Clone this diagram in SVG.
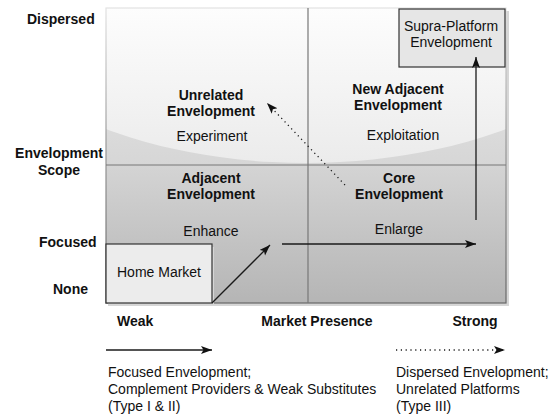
<svg xmlns="http://www.w3.org/2000/svg" width="553" height="414" viewBox="0 0 553 414">
  <style>
    text { font-family: "Liberation Sans", Arial, sans-serif; font-size: 14px; fill: #111; }
    .b { font-weight: bold; }
    .c { text-anchor: middle; }
    .grid { stroke: #777; stroke-width: 1.2; fill: none; }
    .conn { stroke: #1a1a1a; stroke-width: 1.3; fill: none; }
    .dot { stroke: #1a1a1a; stroke-width: 1.3; fill: none; stroke-dasharray: 1.2 3.6; }
    .box { stroke: #333; stroke-width: 1.2; }
    .shadow { fill: #d6d6d6; }
  </style>
  <defs>
    <marker id="head" markerUnits="userSpaceOnUse" markerWidth="12" markerHeight="9" refX="11" refY="4" orient="auto">
      <path d="M0,0 L11,4 L0,8 L2.5,4 z" fill="#111"/>
    </marker>
    <linearGradient id="upperBase" x1="0" y1="0" x2="0" y2="1">
      <stop offset="0" stop-color="#ececec"/>
      <stop offset="1" stop-color="#d6d6d6"/>
    </linearGradient>
    <linearGradient id="gloss" gradientUnits="userSpaceOnUse" x1="0" y1="8" x2="0" y2="165">
      <stop offset="0" stop-color="#fdfdfd"/>
      <stop offset="1" stop-color="#ebebeb"/>
    </linearGradient>
    <linearGradient id="lower" x1="0" y1="0" x2="0" y2="1">
      <stop offset="0" stop-color="#d4d4d4"/>
      <stop offset="1" stop-color="#b5b5b5"/>
    </linearGradient>
    <linearGradient id="frame" gradientUnits="userSpaceOnUse" x1="0" y1="8" x2="0" y2="303">
      <stop offset="0" stop-color="#e2e2e2"/>
      <stop offset="0.45" stop-color="#9a9a9a"/>
      <stop offset="1" stop-color="#666"/>
    </linearGradient>
    <clipPath id="upperClip">
      <rect x="106" y="8" width="400" height="157"/>
    </clipPath>
  </defs>

  <!-- chart panel -->
  <g id="panel">
    <rect class="shadow" x="109" y="11" width="400" height="295"/>
    <g clip-path="url(#upperClip)">
      <rect x="106" y="8" width="400" height="157" fill="url(#upperBase)"/>
      <ellipse cx="306" cy="-20" rx="344" ry="183" fill="url(#gloss)"/>
    </g>
    <rect x="106" y="165" width="400" height="138" fill="url(#lower)"/>
    <rect x="106" y="8" width="400" height="295" fill="none" stroke="url(#frame)" stroke-width="1.2"/>
    <line class="grid" x1="308" y1="8" x2="308" y2="303"/>
    <line class="grid" x1="106" y1="165" x2="506" y2="165"/>
  </g>

  <!-- vertical axis -->
  <g id="axis-scope">
    <text class="b" x="27" y="24">Dispersed</text>
    <text class="b c" x="59" y="158">Envelopment</text>
    <text class="b c" x="59" y="175">Scope</text>
    <text class="b" x="39" y="247">Focused</text>
    <text class="b" x="53" y="294">None</text>
  </g>

  <!-- horizontal axis -->
  <g id="axis-presence">
    <text class="b" x="117" y="326">Weak</text>
    <text class="b c" x="317" y="326">Market Presence</text>
    <text class="b c" x="475" y="326">Strong</text>
  </g>

  <!-- quadrants -->
  <g id="unrelated">
    <text class="b c" x="211" y="100">Unrelated</text>
    <text class="b c" x="211" y="116">Envelopment</text>
    <text class="c" x="212" y="141">Experiment</text>
  </g>
  <g id="new-adjacent">
    <text class="b c" x="398" y="94">New Adjacent</text>
    <text class="b c" x="398" y="110">Envelopment</text>
    <text class="c" x="403" y="140">Exploitation</text>
  </g>
  <g id="adjacent">
    <text class="b c" x="211" y="183">Adjacent</text>
    <text class="b c" x="211" y="199">Envelopment</text>
    <text class="c" x="211" y="236">Enhance</text>
  </g>
  <g id="core">
    <text class="b c" x="399" y="183">Core</text>
    <text class="b c" x="399" y="199">Envelopment</text>
    <text class="c" x="399" y="234">Enlarge</text>
  </g>

  <!-- boxed nodes -->
  <g id="home-market">
    <rect class="shadow" x="108" y="247" width="106" height="59"/>
    <rect class="box" x="106" y="244" width="106" height="59" fill="#ececec"/>
    <text class="c" x="159" y="277">Home Market</text>
  </g>
  <g id="supra-platform">
    <rect class="box" x="399" y="9" width="106" height="58" fill="#e6e6e6"/>
    <text class="c" x="451" y="31">Supra-Platform</text>
    <text class="c" x="451" y="47">Envelopment</text>
  </g>

  <!-- connectors -->
  <g id="connectors">
    <line class="conn" x1="212" y1="303" x2="270" y2="245" marker-end="url(#head)"/>
    <line class="conn" x1="282" y1="244" x2="476" y2="244" marker-end="url(#head)"/>
    <line class="conn" x1="476" y1="220" x2="476" y2="57" marker-end="url(#head)"/>
    <line class="dot" x1="345" y1="185" x2="267" y2="103" marker-end="url(#head)"/>
  </g>

  <!-- legend -->
  <g id="legend">
    <line class="conn" x1="106" y1="350" x2="212" y2="350" marker-end="url(#head)"/>
    <text x="108" y="377">Focused Envelopment;</text>
    <text x="108" y="394">Complement Providers &amp; Weak Substitutes</text>
    <text x="108" y="411">(Type I &amp; II)</text>
    <line class="dot" x1="396" y1="350" x2="505" y2="350" marker-end="url(#head)"/>
    <text x="396" y="377">Dispersed Envelopment;</text>
    <text x="396" y="394">Unrelated Platforms</text>
    <text x="396" y="411">(Type III)</text>
  </g>
</svg>
